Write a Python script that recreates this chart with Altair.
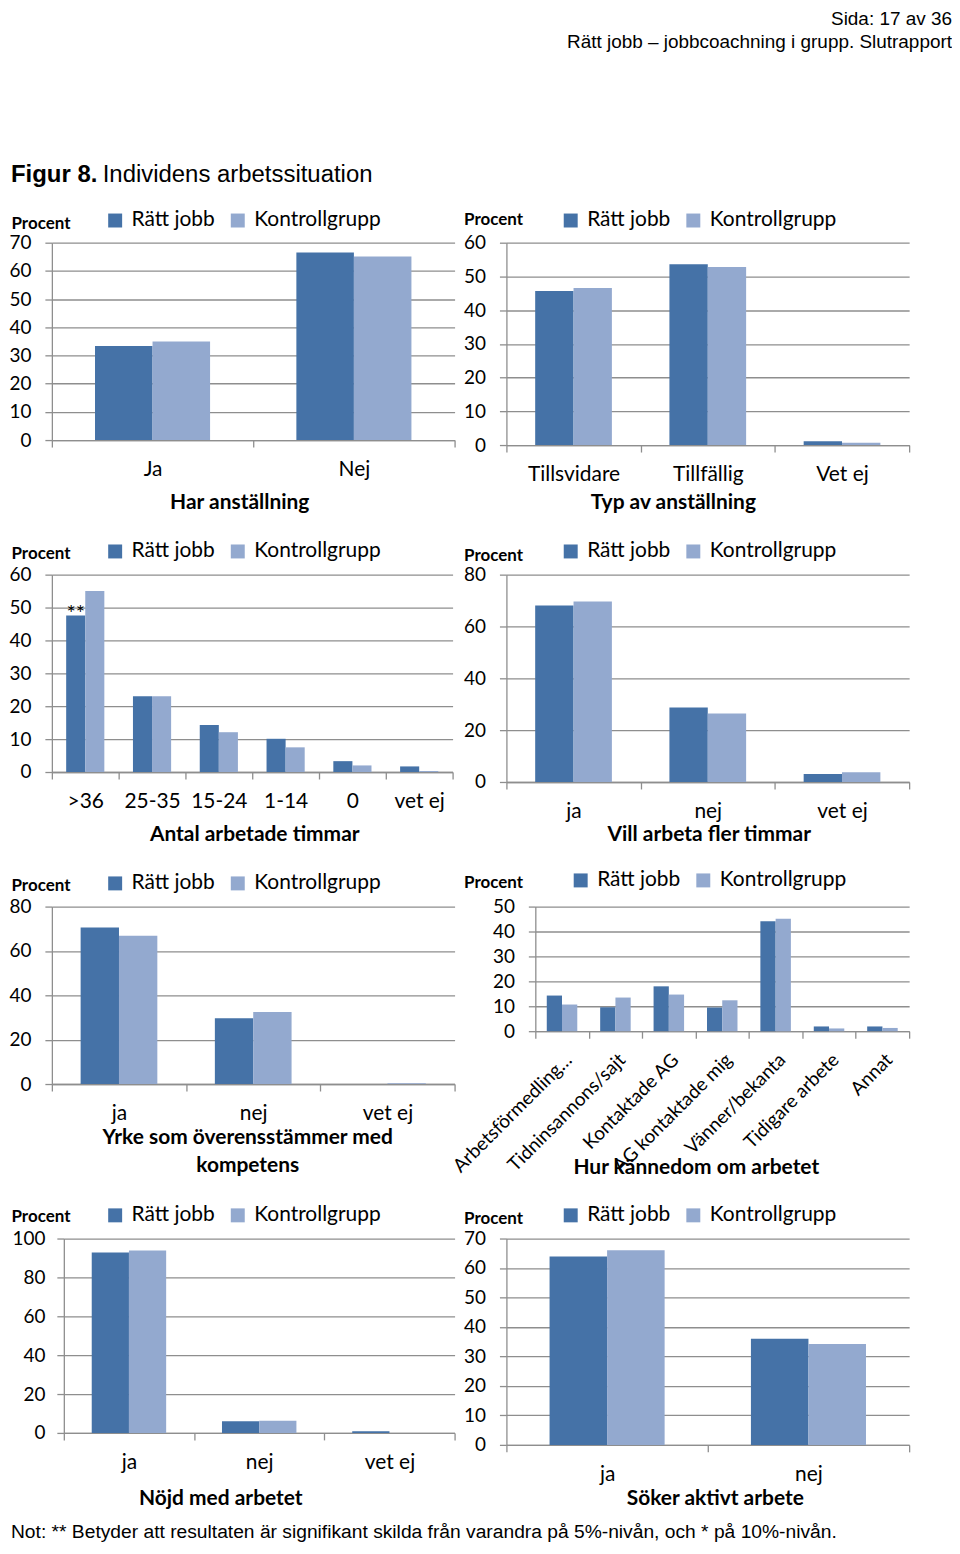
import altair as alt
import pandas as pd

GRUPPER = ["Rätt jobb", "Kontrollgrupp"]
FARGER = ["#4572A7", "#93A9CF"]
GRA = "#8E8E8E"

# Har anställning
har_kat = ["Ja", "Nej"]
har_rj = [33.4, 66.5]
har_kg = [35.0, 65.1]
har_ticks = [0, 10, 20, 30, 40, 50, 60, 70]

# Typ av anställning
typ_kat = ["Tillsvidare", "Tillfällig", "Vet ej"]
typ_rj = [45.7, 53.6, 1.1]
typ_kg = [46.6, 52.8, 0.7]
typ_ticks = [0, 10, 20, 30, 40, 50, 60]

# Antal arbetade timmar
tim_kat = [">36", "25-35", "15-24", "1-14", "0", "vet ej"]
tim_rj = [47.6, 23.0, 14.3, 10.1, 3.3, 1.7]
tim_kg = [55.0, 23.0, 12.1, 7.5, 2.0, 0.3]
tim_ticks = [0, 10, 20, 30, 40, 50, 60]

# Vill arbeta fler timmar
fler_kat = ["ja", "nej", "vet ej"]
fler_rj = [68.1, 28.7, 3.1]
fler_kg = [69.6, 26.4, 3.8]
fler_ticks = [0, 20, 40, 60, 80]

# Yrke som överensstämmer med kompetens
yrke_kat = ["ja", "nej", "vet ej"]
yrke_rj = [70.6, 29.6, 0.0]
yrke_kg = [66.9, 32.5, 0.4]
yrke_ticks = [0, 20, 40, 60, 80]

# Hur kännedom om arbetet
hur_kat = ["Arbetsförmedling…", "Tidninsannons/sajt", "Kontaktade AG",
           "AG kontaktade mig", "Vänner/bekanta", "Tidigare arbete", "Annat"]
hur_rj = [14.3, 9.6, 18.0, 9.5, 44.1, 1.9, 1.9]
hur_kg = [10.7, 13.5, 14.7, 12.4, 45.1, 1.1, 1.3]
hur_ticks = [0, 10, 20, 30, 40, 50]

# Nöjd med arbetet
nojd_kat = ["ja", "nej", "vet ej"]
nojd_rj = [92.8, 6.0, 0.9]
nojd_kg = [93.8, 6.2, 0.0]
nojd_ticks = [0, 20, 40, 60, 80, 100]

# Söker aktivt arbete
sok_kat = ["ja", "nej"]
sok_rj = [63.9, 36.0]
sok_kg = [66.0, 34.2]
sok_ticks = [0, 10, 20, 30, 40, 50, 60, 70]

signif_text = "**"
sida_text = "Sida: 17 av 36"
rapport_text = "Rätt jobb – jobbcoachning i grupp. Slutrapport"
figur_bold = "Figur 8."
figur_text = "Individens arbetssituation"
not_text = ("Not: ** Betyder att resultaten är signifikant skilda från varandra "
            "på 5%-nivån, och * på 10%-nivån.")

W = 404


def panel(kat, rj, kg, ticks, h, title, tx, ty, lx, ly, px, py,
          x0=0, w=W, label_angle=0, label_size=21, title_baseline="middle",
          ylabel_pad=14, stars=None, extra=None):
    df = pd.DataFrame({
        "kategori": kat + kat,
        "grupp": [GRUPPER[0]] * len(kat) + [GRUPPER[1]] * len(kat),
        "procent": rj + kg,
    })
    if x0:
        xs = alt.Scale(domain=kat, range=[x0, w], paddingInner=0, paddingOuter=0)
    else:
        xs = alt.Scale(domain=kat, paddingInner=0, paddingOuter=0)
    xaxis = alt.Axis(
        title=title, titleX=tx, titleY=ty, titleAlign="center",
        titleBaseline=title_baseline, titleFontWeight="bold", titleFontSize=21,
        titleLineHeight=28, labelAngle=label_angle, labelFontSize=label_size,
        labelPadding=12, tickBand="extent", grid=False, tickSize=7,
    )
    yargs = dict(
        values=ticks, title="Procent", titleAngle=0, titleX=px, titleY=py,
        titleAlign="left", titleBaseline="middle", titleFontSize=17,
        titleFontWeight="bold", labelFontSize=19, labelPadding=ylabel_pad,
        grid=True, tickSize=7,
    )
    if x0:
        yargs["offset"] = -x0
    x = alt.X("kategori:N", scale=xs, axis=xaxis)
    xo = alt.XOffset("grupp:N", scale=alt.Scale(domain=GRUPPER, paddingInner=0,
                                                paddingOuter=0.75))
    y = alt.Y("procent:Q", scale=alt.Scale(domain=[ticks[0], ticks[-1]], nice=False),
              axis=alt.Axis(**yargs))
    color = alt.Color(
        "grupp:N", scale=alt.Scale(domain=GRUPPER, range=FARGER),
        legend=alt.Legend(orient="none", legendX=lx, legendY=ly,
                          direction="horizontal", title=None),
    )
    bars = alt.Chart(df).mark_bar().encode(x=x, xOffset=xo, y=y, color=color)
    layers = [bars]
    if stars:
        sdf = pd.DataFrame(stars)
        layers.append(
            alt.Chart(sdf).mark_text(font="Lato", fontSize=22, baseline="alphabetic", dy=6)
            .encode(x=x, xOffset=xo, y=y, text="markering:N")
        )
    if extra:
        layers += extra
    return alt.layer(*layers).properties(width=w, height=h)


def fri_text(txt, x, y, font, size, weight="normal", align="left"):
    return (
        alt.Chart(pd.DataFrame({"t": [txt]}))
        .mark_text(font=font, fontSize=size, fontWeight=weight, align=align,
                   baseline="alphabetic", color="black")
        .encode(x=alt.value(x), y=alt.value(y), text="t:N")
    )


SANS = "Liberation Sans"

sidtexter = [
    fri_text(sida_text, 903, -218, SANS, 19, align="right"),
    fri_text(rapport_text, 903, -195, SANS, 19, align="right"),
    fri_text(figur_bold, -41, -61, SANS, 24, weight="bold"),
    fri_text(figur_text, 51, -61, SANS, 24),
    fri_text(not_text, -41, 1299, SANS, 19.3),
]

p1 = panel(har_kat, har_rj, har_kg, har_ticks, 198, "Har anställning",
           188, 63, 53, -33, -41, -19, extra=sidtexter)
p2 = panel(typ_kat, typ_rj, typ_kg, typ_ticks, 203, "Typ av anställning",
           167, 58, 54, -33, -43, -23)
p3 = panel(tim_kat, tim_rj, tim_kg, tim_ticks, 198, "Antal arbetade timmar",
           203, 63, 53, -34, -41, -21, w=402,
           stars=[{"kategori": tim_kat[0], "grupp": GRUPPER[0],
                   "procent": tim_rj[0], "markering": signif_text}])
p4 = panel(fler_kat, fler_rj, fler_kg, fler_ticks, 208, "Vill arbeta fler timmar",
           203, 53, 54, -34, -43, -19)
p5 = panel(yrke_kat, yrke_rj, yrke_kg, yrke_ticks, 178,
           ["Yrke som överensstämmer med", "kompetens"],
           196, 43, 53, -34, -41, -21, title_baseline="top")
p6 = panel(hur_kat, hur_rj, hur_kg, hur_ticks, 125, "Hur kännedom om arbetet",
           190, 137, 64, -37, -72, -24, x0=29, label_angle=-45, label_size=19)
p7 = panel(nojd_kat, nojd_rj, nojd_kg, nojd_ticks, 195, "Nöjd med arbetet",
           169, 66, 53, -34, -53, -22, x0=12, ylabel_pad=12)
p8 = panel(sok_kat, sok_rj, sok_kg, sok_ticks, 207, "Söker aktivt arbete",
           209, 54, 54, -34, -43, -20)

chart = (
    alt.concat(p1, p2, p3, p4, p5, p6, p7, p8, columns=2,
               spacing={"row": 125, "column": 52}, bounds="flush", align="all")
    .resolve_scale(x="independent", y="independent", xOffset="independent")
    .resolve_legend(color="independent")
    .properties(padding=0)
    .configure_view(stroke=None)
    .configure_axis(
        domainColor=GRA, tickColor=GRA, gridColor=GRA, domainWidth=1.3,
        tickWidth=1.3, gridWidth=1.3, labelFont="Lato", titleFont="Lato",
        labelColor="black", titleColor="black",
    )
    .configure_legend(
        labelFont="Lato", labelFontSize=21, labelColor="black", symbolType="square",
        symbolSize=196, symbolStrokeWidth=0, symbolOpacity=1, labelOffset=6,
        columnPadding=12,
    )
)

chart.save("out.html", embed_options={"renderer": "svg", "actions": False})
